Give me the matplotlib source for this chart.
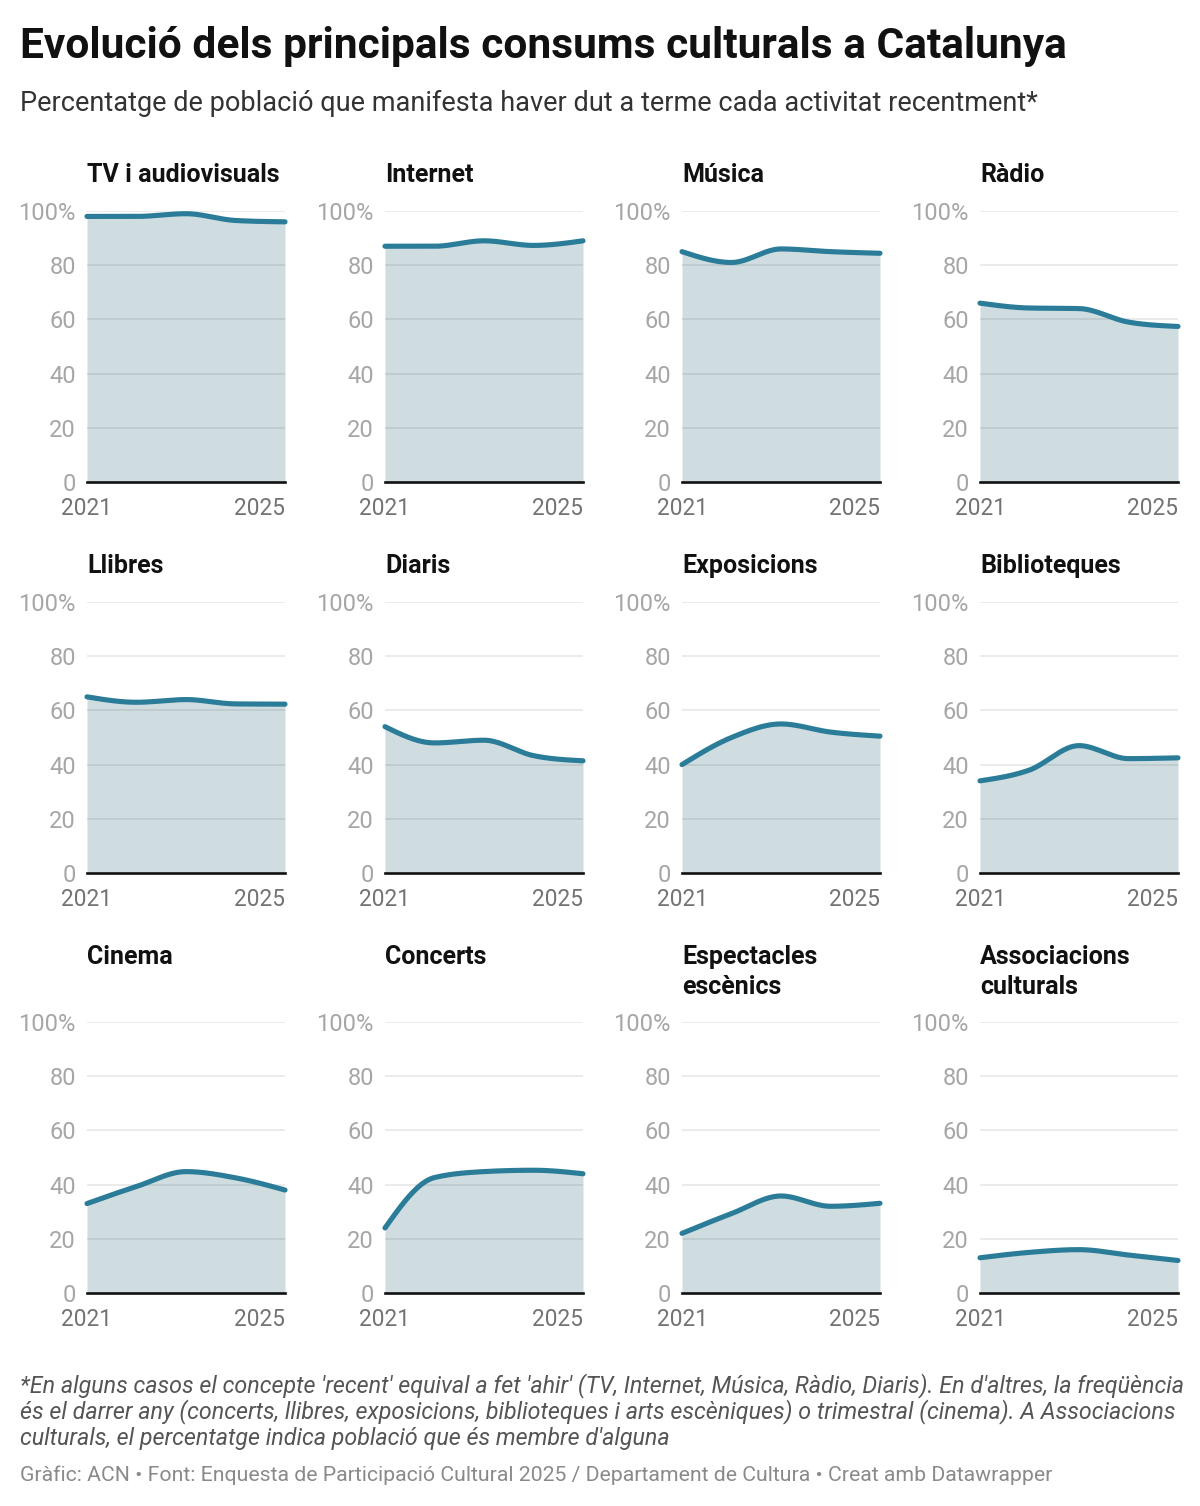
import numpy as np
import matplotlib
matplotlib.use("Agg")
import matplotlib.pyplot as plt

plt.rcParams['font.family'] = ['Roboto', 'DejaVu Sans']

years = [2021, 2022, 2023, 2024, 2025]
titles = ["TV i audiovisuals", "Internet", "Música", "Ràdio",
          "Llibres", "Diaris", "Exposicions", "Biblioteques",
          "Cinema", "Concerts", "Espectacles\nescènics", "Associacions\nculturals"]

tv = [98, 98, 99, 96.5, 96]
internet = [87, 87, 89, 87.3, 89]
musica = [85, 81, 86, 85, 84.4]
radio = [66, 64.2, 64, 59, 57.4]
llibres = [65, 63, 64, 62.4, 62.3]
diaris = [54, 48, 49, 43.3, 41.4]
exposicions = [40, 50, 55, 52, 50.5]
biblioteques = [34, 38, 47, 42.2, 42.5]
cinema = [33, 39.3, 44.8, 42.5, 38]
concerts = [24, 42.6, 44.8, 45.3, 44]
espectacles = [22, 29.3, 35.8, 32, 33.1]
associacions = [13, 15, 16, 14, 12]

series = [tv, internet, musica, radio, llibres, diaris, exposicions,
          biblioteques, cinema, concerts, espectacles, associacions]

y_ticks = [0, 20, 40, 60, 80, 100]
y_labels = ["0", "20", "40", "60", "80", "100%"]
x_ticks = [2021, 2025]
x_labels = ["2021", "2025"]

LINE = "#2a7c98"
FILL = "#cfdde1"


def monotone_x(x, y, n=40):
    """d3.curveMonotoneX rendering of the given points."""
    x = np.asarray(x, float)
    y = np.asarray(y, float)
    m = len(x)
    h = np.diff(x)
    s = np.diff(y) / h
    t = np.zeros(m)
    for i in range(1, m - 1):
        h0, h1 = h[i - 1], h[i]
        s0, s1 = s[i - 1], s[i]
        p = (s0 * h1 + s1 * h0) / (h0 + h1)
        t[i] = (np.sign(s0) + np.sign(s1)) * min(abs(s0), abs(s1), 0.5 * abs(p))
    t[0] = (3 * s[0] - t[1]) / 2
    t[-1] = (3 * s[-1] - t[-2]) / 2
    xs, ys = [], []
    for i in range(m - 1):
        dx = h[i] / 3
        p0 = np.array([x[i], y[i]])
        p1 = np.array([x[i] + dx, y[i] + dx * t[i]])
        p2 = np.array([x[i + 1] - dx, y[i + 1] - dx * t[i + 1]])
        p3 = np.array([x[i + 1], y[i + 1]])
        u = np.linspace(0, 1, n)[:, None]
        pts = ((1 - u) ** 3) * p0 + 3 * ((1 - u) ** 2) * u * p1 + 3 * (1 - u) * u ** 2 * p2 + u ** 3 * p3
        if i > 0:
            pts = pts[1:]
        xs.extend(pts[:, 0])
        ys.extend(pts[:, 1])
    return np.array(xs), np.array(ys)


W, H = 1200, 1506
fig = plt.figure(figsize=(W / 100, H / 100), dpi=100)

col_left = [87, 385, 682, 980]
plot_w = 198
row_top = [211, 602, 1022]
plot_h = 271
title_base = [182, 573, 964]

for idx, (title, vals) in enumerate(zip(titles, series)):
    r, c = divmod(idx, 4)
    left = col_left[c] / W
    bottom = 1 - (row_top[r] + plot_h) / H
    ax = fig.add_axes([left, bottom, plot_w / W, plot_h / H])
    ax.set_xlim(2021, 2025)
    ax.set_ylim(0, 100)
    sx, sy = monotone_x(years, vals)
    ax.fill_between(sx, 0, sy, color=FILL, lw=0, zorder=1)
    for yt in y_ticks[1:]:
        ax.axhline(yt, color=(0, 0, 0, 0.1), lw=1.1, zorder=2)
    ax.plot(sx, sy, color=LINE, lw=3.7, solid_capstyle='round', zorder=4, clip_on=False)
    ax.axhline(0, color="#111111", lw=1.9, zorder=5, clip_on=False)
    for sp in ax.spines.values():
        sp.set_visible(False)
    ax.set_yticks(y_ticks)
    ax.set_yticklabels(y_labels, fontsize=17, color="#a6a6a6")
    ax.set_xticks(x_ticks)
    ax.set_xticklabels(x_labels, fontsize=16.3, color="#737373")
    ax.tick_params(axis='both', length=0)
    ax.tick_params(axis='y', pad=8)
    ax.tick_params(axis='x', pad=11)
    lbls = ax.get_xticklabels()
    lbls[1].set_ha('right')
    ax.set_facecolor('none')
    lines = title.split("\n")
    for k, ln in enumerate(lines):
        fig.text(col_left[c] / W, 1 - (title_base[r] + 30 * k) / H, ln,
                 fontsize=18, fontweight='bold', color="#111111", va='baseline', ha='left')

fig.text(20 / W, 1 - 58 / H, "Evolució dels principals consums culturals a Catalunya",
         fontsize=30.6, fontweight='bold', color="#111111", va='baseline', ha='left')
fig.text(20 / W, 1 - 111 / H,
         "Percentatge de població que manifesta haver dut a terme cada activitat recentment*",
         fontsize=19.5, color="#333333", va='baseline', ha='left')

notes = ["*En alguns casos el concepte 'recent' equival a fet 'ahir' (TV, Internet, Música, Ràdio, Diaris). En d'altres, la freqüència",
         "és el darrer any (concerts, llibres, exposicions, biblioteques i arts escèniques) o trimestral (cinema). A Associacions",
         "culturals, el percentatge indica població que és membre d'alguna"]
for k, ln in enumerate(notes):
    fig.text(20 / W, 1 - (1392 + 26.5 * k) / H, ln, fontsize=16.75, style='italic',
             color="#555555", va='baseline', ha='left')

fig.text(20 / W, 1 - 1481 / H,
         "Gràfic: ACN • Font: Enquesta de Participació Cultural 2025 / Departament de Cultura • Creat amb Datawrapper",
         fontsize=15.3, color="#8a8a8a", va='baseline', ha='left')

fig.savefig("out.png", dpi=100, facecolor="white")
